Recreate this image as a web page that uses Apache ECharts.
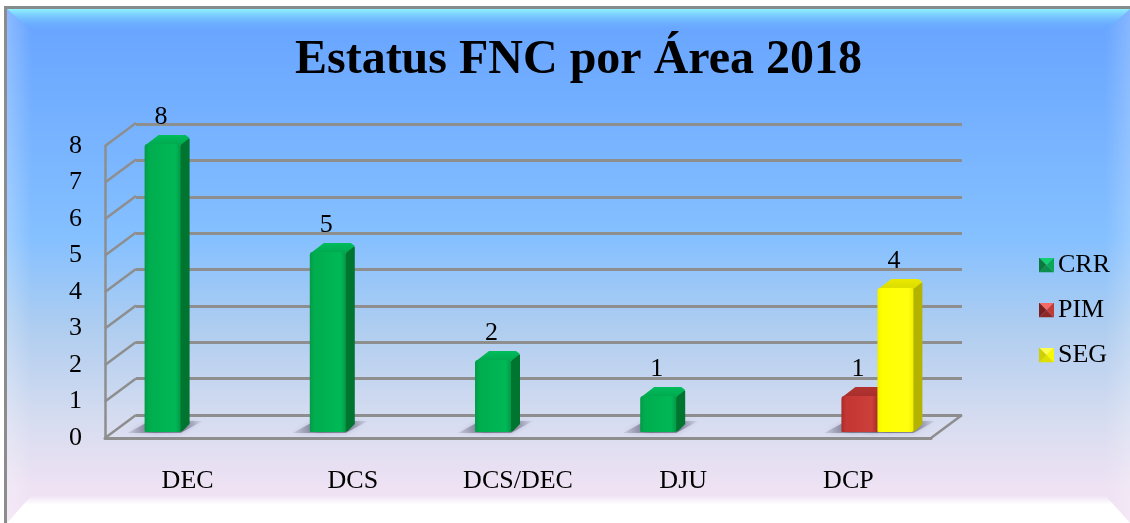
<!DOCTYPE html>
<html><head><meta charset="utf-8">
<style>html,body{margin:0;padding:0;background:#fff}#c{width:1130px;height:523px}</style>
<script src="https://cdn.jsdelivr.net/npm/echarts@6/dist/echarts.min.js"></script>
</head><body><div id="c"></div>
<script>
const titleText = 'Estatus FNC por Área 2018';
const categories = ['DEC','DCS','DCS/DEC','DJU','DCP'];
const seriesNames = ['CRR','PIM','SEG'];
const crrValues = [8,5,2,1,null];
const pimValues = [null,null,null,null,1];
const segValues = [null,null,null,null,4];
const yTicks = [0,1,2,3,4,5,6,7,8];

const FONT = '"Liberation Serif"';
const GRIDC = '#8e8e8e';
const W = 826;
const DX = 31, DY = -23;
const palette = {
  CRR:{edge:'#049a48',mid:'#00ad4e',light:'#00b856',side:'#00752f',top:'#00a84e',topL:'#00bd5c',a:'#0a7a3c',b:'#12d072',c:'#0c8f4c',d:'#08a857'},
  PIM:{edge:'#a82c2a',mid:'#c23633',light:'#cc3f3a',side:'#8a2523',top:'#a82e2b',topL:'#b23431',a:'#7a1f1e',b:'#f56a66',c:'#8c2a28',d:'#c23a36'},
  SEG:{edge:'#f0f000',mid:'#ffff00',light:'#ffff10',side:'#b4b400',top:'#dcdc00',topL:'#e8e800',a:'#d0d000',b:'#ffff50',c:'#e0e000',d:'#f8f800'}
};
function icon(p){
  const s='<svg xmlns="http://www.w3.org/2000/svg" width="15" height="15">'+
  '<polygon points="0,0 15,0 7.5,7.5" fill="'+p.b+'"/>'+
  '<polygon points="0,15 15,15 7.5,7.5" fill="'+p.c+'"/>'+
  '<polygon points="0,0 0,15 7.5,7.5" fill="'+p.a+'"/>'+
  '<polygon points="15,0 15,15 7.5,7.5" fill="'+p.d+'"/></svg>';
  return 'image://data:image/svg+xml;charset=utf-8,'+encodeURIComponent(s);
}
function renderBar(slot,p){
  return function(params,api){
    const cat=api.value(0), v=api.value(1);
    const top=api.coord([cat,v]), base=api.coord([cat,0]);
    const w=36;
    const x=base[0]-54+slot*w, y=top[1], b=base[1], r=x+w;
    const hg={type:'linear',x:0,y:0,x2:1,y2:0,colorStops:[{offset:0,color:p.edge},{offset:.12,color:p.mid},{offset:.85,color:p.light},{offset:1,color:p.edge}]};
    return {type:'group',children:[
      {type:'polygon',z2:-5,shape:{points:[[x-17,b+1],[x+5,b-11],[x+58,b-11],[x+36,b+1]]},
       style:{fill:{type:'linear',x:0,y:1,x2:1,y2:0,colorStops:[{offset:0,color:'rgba(105,105,130,0.15)'},{offset:.35,color:'rgba(95,95,120,0.75)'},{offset:.75,color:'rgba(95,95,120,0.6)'},{offset:1,color:'rgba(105,105,130,0.05)'}]},
              shadowBlur:5,shadowColor:'rgba(95,95,120,0.45)'}},
      {type:'polygon',z2:1,shape:{points:[[r-1,y+3],[r+5,y-8],[r+9,y-5],[r+9,b-8],[r+2,b-1],[r-1,b]]},style:{fill:p.side}},
      {type:'polygon',z2:2,shape:{points:[[x+1,y+1],[x+14,y-9],[r+5,y-9],[r+9,y-6],[r,y+1]]},
       style:{fill:{type:'linear',x:0,y:0,x2:0,y2:1,colorStops:[{offset:0,color:p.topL},{offset:1,color:p.top}]}}},
      {type:'rect',z2:3,shape:{x:x,y:y,width:w,height:b-y,r:[3,2,2,1]},style:{fill:hg}},
      {type:'text',z2:6,style:{text:String(v),x:x+w/2-1.5,y:y-27,align:'center',verticalAlign:'middle',font:'26px '+FONT,fill:'#000'}}
    ]};
  };
}
const makeData=vals=>vals.map((v,i)=>[categories[i],v]).filter(d=>d[1]!==null);
const valueSets=[crrValues,pimValues,segValues];

const lg=(o,c0,c1)=>Object.assign({type:'linear',colorStops:[{offset:0,color:c0},{offset:1,color:c1}]},o);
const bg=[
 {type:'rect',z:-10,shape:{x:0,y:0,width:1130,height:523},style:{fill:'#fff'}},
 {type:'rect',z:-9,shape:{x:5,y:7,width:1125,height:516},style:{fill:{type:'linear',x:0,y:0,x2:0,y2:1,colorStops:[
   {offset:0,color:'#66a3ff'},{offset:.45,color:'#85c0ff'},{offset:.62,color:'#aecdf0'},{offset:.8,color:'#d6dcf0'},{offset:.93,color:'#eee2f3'},{offset:1,color:'#f2e2f4'}]}}},
 {type:'polygon',z:-8,shape:{points:[[7,9],[32,32],[32,500],[7,523]]},style:{fill:lg({x:0,y:0,x2:1,y2:0},'rgba(255,255,255,0.24)','rgba(255,255,255,0)')}},
 {type:'polygon',z:-8,shape:{points:[[1130,9],[1105,32],[1105,500],[1130,523]]},style:{fill:lg({x:1,y:0,x2:0,y2:0},'rgba(255,255,255,0.2)','rgba(255,255,255,0)')}},
 {type:'polygon',z:-8,shape:{points:[[7,9],[1130,9],[1105,32],[32,32]]},style:{fill:lg({x:0,y:0,x2:0,y2:1},'#8ff2ff','rgba(102,163,255,0)')}},
 {type:'polygon',z:-8,shape:{points:[[7,523],[1130,523],[1105,495],[32,495]]},style:{fill:{type:'linear',x:0,y:1,x2:0,y2:0,colorStops:[{offset:0,color:'#fff'},{offset:.65,color:'#fff'},{offset:1,color:'rgba(255,255,255,0)'}]}}},
 {type:'rect',z:-7,shape:{x:4,y:6,width:1126,height:3},style:{fill:'#848c8c'}},
 {type:'rect',z:-7,shape:{x:4,y:6,width:3,height:517},style:{fill:'#8c8c8c'}}
];
const serie=seriesNames.map((n,i)=>({
  type:'custom',name:n,xAxisIndex:2,yAxisIndex:2,z:5,clip:false,
  itemStyle:{color:palette[n].mid},
  renderItem:renderBar(i,palette[n]),
  encode:{x:0,y:1},data:makeData(valueSets[i])
}));
const frame={type:'custom',xAxisIndex:0,yAxisIndex:0,z:2,silent:true,clip:false,
  encode:{x:0,y:1},data:yTicks.map(t=>[categories[0],t]),
  renderItem(params,api){
    const y=api.coord([0,api.value(1)])[1], x=params.coordSys.x;
    const line=(a,b,c,d)=>({type:'line',shape:{x1:a,y1:b,x2:c,y2:d},style:{stroke:GRIDC,lineWidth:2.5}});
    const kids=[line(x,y,x+DX,y+DY)];
    if(api.value(1)===0) kids.push(line(x+W,y,x+W+DX,y+DY));
    return {type:'group',children:kids};
  }};
const option={
  animation:false,
  textStyle:{fontFamily:FONT},
  graphic:bg,
  title:{text:titleText,left:573.5,top:32,textAlign:'center',textStyle:{fontFamily:FONT,fontWeight:'bold',fontSize:48,color:'#000'}},
  legend:{data:seriesNames.map(n=>({name:n,icon:icon(palette[n])})),orient:'vertical',left:1034,top:247,itemWidth:15,itemHeight:15,itemGap:19,
    textStyle:{fontFamily:FONT,fontSize:26,color:'#000',padding:[0,0,0,-1]},selectedMode:false},
  grid:[
    {left:105,top:146,width:W,height:292},
    {left:136,top:124,width:W,height:291},
    {left:116,top:144,width:W,height:288}
  ],
  xAxis:[
    {type:'category',gridIndex:0,data:categories,axisTick:{show:false},axisLine:{lineStyle:{color:GRIDC,width:3}},
     axisLabel:{fontFamily:FONT,fontSize:26,color:'#000',margin:30}},
    {type:'category',gridIndex:1,data:categories,show:false},
    {type:'category',gridIndex:2,data:categories,show:false}
  ],
  yAxis:[
    {type:'value',gridIndex:0,min:0,max:8,interval:1,axisLine:{show:true,lineStyle:{color:GRIDC,width:2.5}},axisTick:{show:false},splitLine:{show:false},
     axisLabel:{fontFamily:FONT,fontSize:26,color:'#000',margin:23,padding:[6,0,0,0]}},
    {type:'value',gridIndex:1,min:0,max:8,interval:1,axisLine:{show:false},axisTick:{show:false},axisLabel:{show:false},splitLine:{show:true,lineStyle:{color:GRIDC,width:3}}},
    {type:'value',gridIndex:2,min:0,max:8,interval:1,show:false}
  ],
  series:[frame].concat(serie)
};
echarts.init(document.getElementById('c'),null,{renderer:'canvas'}).setOption(option);
</script></body></html>
